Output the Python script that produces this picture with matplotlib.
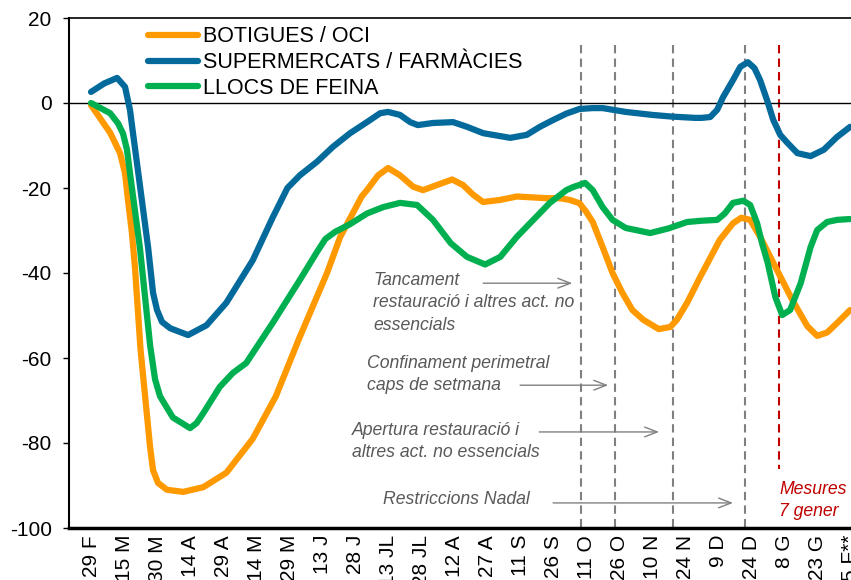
import matplotlib
matplotlib.use('Agg')
import matplotlib.pyplot as plt
import numpy as np

plt.rcParams['font.family'] = ['Liberation Sans', 'DejaVu Sans']
plt.rcParams['axes.unicode_minus'] = False

dates = ['29 F', '15 M', '30 M', '14 A', '29 A', '14 M', '29 M', '13 J', '28 J', '13 JL',
         '28 JL', '12 A', '27 A', '11 S', '26 S', '11 O', '26 O', '10 N', '24 N', '9 D',
         '24 D', '8 G', '23 G', '5 F**']

# position in fortnights since 29 F, value in %
botigues_x = [0, 0.58, 0.88, 1.03, 1.12, 1.24, 1.33, 1.5, 1.79, 1.88, 2.03, 2.3, 2.79, 3.4,
              4.1, 4.9, 5.6, 6.3, 7.15, 7.55, 8.2, 8.36, 8.7, 9.0, 9.36, 9.76, 10.06, 10.48,
              10.94, 11.27, 11.58, 11.88, 12.4, 12.9, 13.8, 14.2, 14.5, 14.8, 15.0, 15.2,
              15.5, 15.8, 16.1, 16.4, 16.73, 17.2, 17.55, 17.75, 18.06, 18.45, 19.05, 19.45,
              19.7, 19.97, 20.27, 20.67, 21.25, 21.7, 22.0, 22.3, 22.6, 23.0]
botigues = [-0.5, -7, -11.8, -16.5, -22.8, -30.6, -38.5, -58, -81, -86.4, -89.4, -91, -91.5,
            -90.4, -87, -79, -69, -55.5, -40, -31.5, -22, -20.5, -17, -15.3, -17, -19.7,
            -20.5, -19.3, -18, -19.3, -21.6, -23.3, -22.8, -22, -22.4, -22.4, -22.8, -23.6,
            -25.6, -28, -33.9, -40, -44.7, -48.7, -51, -53.2, -52.7, -51, -47, -41, -32.2,
            -28.3, -27, -27.5, -31.5, -37.6, -46.4, -52.5, -54.8, -54, -51.8, -48.7]

super_x = [0, 0.4, 0.79, 1.03, 1.18, 1.27, 1.39, 1.73, 1.88, 2.0, 2.15, 2.4, 2.94, 3.5, 4.1,
           4.9, 5.5, 5.95, 6.33, 6.85, 7.33, 7.85, 8.36, 8.76, 9.0, 9.36, 9.67, 9.9, 10.36,
           10.97, 11.39, 11.88, 12.7, 13.2, 13.6, 14.0, 14.4, 14.8, 15.2, 15.5, 16.2, 17.0,
           17.6, 18.3, 18.5, 18.76, 18.97, 19.15, 19.45, 19.67, 19.9, 20.1, 20.27, 20.48,
           20.67, 20.88, 21.1, 21.4, 21.8, 22.2, 22.6, 23.0]
supermercats = [2.6, 4.6, 5.9, 3.8, -1.6, -7, -14, -34, -44.7, -48.7, -51.5, -53, -54.6,
                -52.3, -47, -37, -27, -20, -17, -13.8, -10.3, -7.1, -4.5, -2.4, -2.1, -2.8,
                -4.5, -5.2, -4.7, -4.5, -5.6, -7.1, -8.2, -7.5, -5.6, -4.0, -2.5, -1.4, -1.2,
                -1.2, -2.1, -2.8, -3.2, -3.5, -3.5, -3.3, -1.6, 1.4, 5.4, 8.5, 9.6, 8.2, 5.4,
                0.7, -4, -7.5, -9.4, -11.8, -12.5, -11, -8, -5.6]

feina_x = [0, 0.58, 0.82, 0.97, 1.09, 1.18, 1.48, 1.79, 1.94, 2.09, 2.48, 3.0, 3.2, 3.4, 3.9,
           4.3, 4.7, 5.5, 6.33, 6.85, 7.1, 7.4, 7.85, 8.36, 8.85, 9.36, 9.88, 10.36, 10.9,
           11.39, 11.94, 12.4, 12.9, 13.4, 13.9, 14.4, 14.6, 14.97, 15.2, 15.5, 15.8, 16.2,
           16.94, 17.5, 18.06, 18.5, 18.97, 19.2, 19.45, 19.76, 19.97, 20.18, 20.33, 20.5,
           20.73, 20.94, 21.18, 21.5, 21.8, 22.0, 22.3, 22.6, 23.0]
feina = [0, -2.4, -4.8, -7.2, -11, -16.5, -34, -57, -65, -69, -74, -76.5, -75.3, -73, -66.8,
         -63.5, -61.2, -51.8, -41.6, -35, -32, -30.3, -28.5, -26, -24.5, -23.5, -24, -27.5,
         -33, -36.2, -38, -36.2, -31.5, -27.5, -23.5, -20.5, -19.8, -18.8, -20.5, -24.5,
         -27.5, -29.4, -30.6, -29.5, -28, -27.7, -27.5, -26, -23.5, -23, -24, -28.3, -33,
         -37.6, -45.6, -49.9, -48.7, -42.4, -33.9, -29.9, -28, -27.5, -27.3]

mesures_grises = [14.85, 15.88, 17.64, 19.82]
mesura_gener = 20.85

fig = plt.figure(figsize=(8.51, 5.80), dpi=100)
ax = fig.add_axes([69/851, 52/580, 801/851, 510/580])

ax.plot(botigues_x, botigues, color='#FF9900', lw=4.5, solid_capstyle='round',
        solid_joinstyle='round', label='BOTIGUES / OCI', zorder=3)
ax.plot(super_x, supermercats, color='#036A9B', lw=4.5, solid_capstyle='round',
        solid_joinstyle='round', label='SUPERMERCATS / FARMÀCIES', zorder=3)
ax.plot(feina_x, feina, color='#00B050', lw=4.5, solid_capstyle='round',
        solid_joinstyle='round', label='LLOCS DE FEINA', zorder=3)

ax.axhline(0, color='black', lw=1, zorder=2)
for xv in mesures_grises:
    ax.plot([xv, xv], [13.6, -100], color='#808080', lw=1.5, ls=(0, (4, 2.5)), zorder=1)
ax.plot([mesura_gener, mesura_gener], [13.6, -86], color='#C00000', lw=1.5,
        ls=(0, (4, 2.5)), zorder=1)

txt = dict(fontsize=12.7, style='italic', color='#595959', ha='left', va='top',
           linespacing=1.4)
ax.text(8.55, -39.8, 'Tancament\nrestauració i altres act. no\nessencials', **txt)
ax.text(8.36, -59.3, 'Confinament perimetral\ncaps de setmana', **txt)
ax.text(7.9, -75.1, 'Apertura restauració i\naltres act. no essencials', **txt)
ax.text(8.85, -91.3, 'Restriccions Nadal', **txt)
ax.text(20.85, -88.9, 'Mesures\n7 gener', fontsize=12.7, style='italic', color='#C00000',
        ha='left', va='top', linespacing=1.4)

arr = dict(arrowstyle='->,head_length=0.9,head_width=0.35', color='#808080', lw=1,
           mutation_scale=10, shrinkA=0, shrinkB=0)
ax.annotate('', xy=(14.58, -42.4), xytext=(11.88, -42.4), arrowprops=arr)
ax.annotate('', xy=(15.67, -66.4), xytext=(13.0, -66.4), arrowprops=arr)
ax.annotate('', xy=(17.21, -77.4), xytext=(13.58, -77.4), arrowprops=arr)
ax.annotate('', xy=(19.45, -94.1), xytext=(14.0, -94.1), arrowprops=arr)

ax.set_xlim(-0.667, 23.6)
ax.set_ylim(-100, 20)
ax.set_yticks(np.arange(-100, 21, 20))
ax.set_xticks(range(len(dates)))
ax.set_xticklabels(dates, rotation=90)
ax.tick_params(axis='y', labelsize=15, length=4, width=1, direction='out', pad=8.5)
ax.tick_params(axis='x', labelsize=15, length=0, pad=5)

ax.spines['left'].set_linewidth(1.5)
ax.spines['bottom'].set_linewidth(2.5)
ax.spines['top'].set_linewidth(1.2)
ax.spines['right'].set_visible(False)

leg = ax.legend(loc='upper left', bbox_to_anchor=(148/851, 1 - 26.5/580),
                bbox_transform=fig.transFigure, frameon=False, fontsize=15.5,
                borderpad=0, borderaxespad=0, handlelength=2.3, handletextpad=0.25,
                labelspacing=0.22)

fig.savefig('out.png', dpi=100)
